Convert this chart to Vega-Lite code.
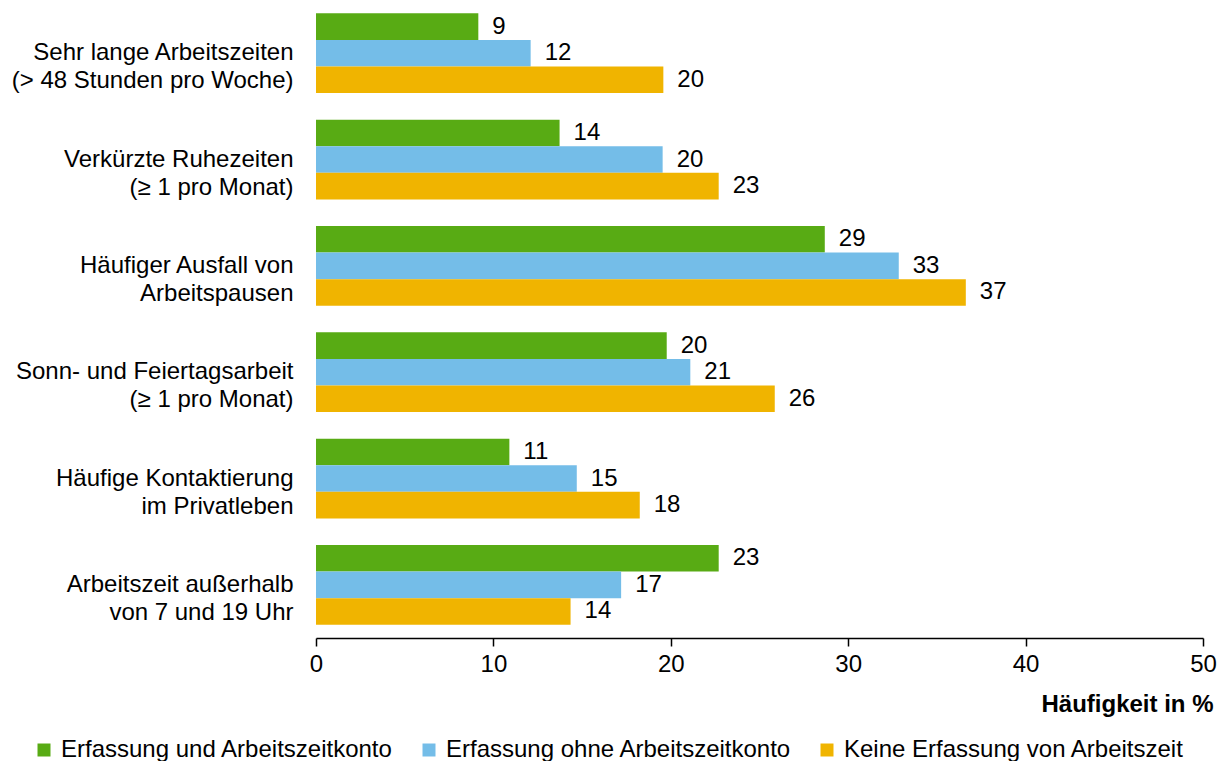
{
  "$schema": "https://vega.github.io/schema/vega-lite/v6.json",
  "width": 887,
  "height": 638,
  "autosize": {"type": "none"},
  "padding": {"left": 316, "top": 0, "right": 22, "bottom": 123},
  "background": "white",
  "config": {
    "font": "Liberation Sans",
    "view": {"stroke": null}
  },
  "data": {
    "values": [
      {"cat": "Sehr lange Arbeitszeiten|(> 48 Stunden pro Woche)", "series": "Erfassung und Arbeitszeitkonto", "value": 9.15},
      {"cat": "Sehr lange Arbeitszeiten|(> 48 Stunden pro Woche)", "series": "Erfassung ohne Arbeitszeitkonto", "value": 12.1},
      {"cat": "Sehr lange Arbeitszeiten|(> 48 Stunden pro Woche)", "series": "Keine Erfassung von Arbeitszeit", "value": 19.58},
      {"cat": "Verkürzte Ruhezeiten|(≥ 1 pro Monat)", "series": "Erfassung und Arbeitszeitkonto", "value": 13.73},
      {"cat": "Verkürzte Ruhezeiten|(≥ 1 pro Monat)", "series": "Erfassung ohne Arbeitszeitkonto", "value": 19.54},
      {"cat": "Verkürzte Ruhezeiten|(≥ 1 pro Monat)", "series": "Keine Erfassung von Arbeitszeit", "value": 22.7},
      {"cat": "Häufiger Ausfall von|Arbeitspausen", "series": "Erfassung und Arbeitszeitkonto", "value": 28.68},
      {"cat": "Häufiger Ausfall von|Arbeitspausen", "series": "Erfassung ohne Arbeitszeitkonto", "value": 32.85},
      {"cat": "Häufiger Ausfall von|Arbeitspausen", "series": "Keine Erfassung von Arbeitszeit", "value": 36.63},
      {"cat": "Sonn- und Feiertagsarbeit|(≥ 1 pro Monat)", "series": "Erfassung und Arbeitszeitkonto", "value": 19.77},
      {"cat": "Sonn- und Feiertagsarbeit|(≥ 1 pro Monat)", "series": "Erfassung ohne Arbeitszeitkonto", "value": 21.1},
      {"cat": "Sonn- und Feiertagsarbeit|(≥ 1 pro Monat)", "series": "Keine Erfassung von Arbeitszeit", "value": 25.86},
      {"cat": "Häufige Kontaktierung|im Privatleben", "series": "Erfassung und Arbeitszeitkonto", "value": 10.9},
      {"cat": "Häufige Kontaktierung|im Privatleben", "series": "Erfassung ohne Arbeitszeitkonto", "value": 14.7},
      {"cat": "Häufige Kontaktierung|im Privatleben", "series": "Keine Erfassung von Arbeitszeit", "value": 18.25},
      {"cat": "Arbeitszeit außerhalb|von 7 und 19 Uhr", "series": "Erfassung und Arbeitszeitkonto", "value": 22.7},
      {"cat": "Arbeitszeit außerhalb|von 7 und 19 Uhr", "series": "Erfassung ohne Arbeitszeitkonto", "value": 17.2},
      {"cat": "Arbeitszeit außerhalb|von 7 und 19 Uhr", "series": "Keine Erfassung von Arbeitszeit", "value": 14.35}
    ]
  },
  "encoding": {
    "y": {
      "field": "cat",
      "type": "nominal",
      "sort": null,
      "scale": {"paddingInner": 0.25, "paddingOuter": 0.125},
      "axis": {
        "title": null,
        "domain": false,
        "ticks": false,
        "labelExpr": "split(datum.value, '|')",
        "labelFontSize": 24,
        "labelColor": "#000000",
        "labelLineHeight": 28,
        "labelPadding": 23,
        "labelAlign": "right",
        "labelLimit": 400
      }
    },
    "yOffset": {
      "field": "series",
      "type": "nominal",
      "sort": ["Erfassung und Arbeitszeitkonto", "Erfassung ohne Arbeitszeitkonto", "Keine Erfassung von Arbeitszeit"],
      "scale": {"paddingInner": 0, "paddingOuter": 0}
    },
    "x": {
      "field": "value",
      "type": "quantitative",
      "scale": {"domain": [0, 50], "nice": false},
      "axis": {
        "title": "Häufigkeit in %",
        "titleFontSize": 24,
        "titleFontWeight": "bold",
        "titleColor": "#000000",
        "titleAnchor": "end",
        "titleAlign": "right",
        "titleBaseline": "alphabetic",
        "titleX": 897,
        "titleY": 73,
        "values": [0, 10, 20, 30, 40, 50],
        "grid": false,
        "domainColor": "#000000",
        "domainWidth": 1.5,
        "tickColor": "#000000",
        "tickWidth": 1.5,
        "tickSize": 8,
        "labelFontSize": 24,
        "labelColor": "#000000",
        "labelPadding": 6,
        "labelFlush": false
      }
    }
  },
  "layer": [
    {
      "mark": {"type": "bar"},
      "encoding": {
        "color": {
          "field": "series",
          "type": "nominal",
          "sort": ["Erfassung und Arbeitszeitkonto", "Erfassung ohne Arbeitszeitkonto", "Keine Erfassung von Arbeitszeit"],
          "scale": {
            "domain": ["Erfassung und Arbeitszeitkonto", "Erfassung ohne Arbeitszeitkonto", "Keine Erfassung von Arbeitszeit"],
            "range": ["#58ab14", "#74bde8", "#f0b400"]
          },
          "legend": {
            "title": null,
            "orient": "none",
            "direction": "horizontal",
            "columns": 3,
            "legendX": -284,
            "legendY": 738,
            "symbolType": "square",
            "symbolSize": 169,
            "symbolStrokeWidth": 0,
            "symbolOpacity": 1,
            "labelFontSize": 24,
            "labelColor": "#000000",
            "labelOffset": 5,
            "columnPadding": 23,
            "labelLimit": 500,
            "padding": 0
          }
        }
      }
    },
    {
      "mark": {"type": "text", "align": "left", "baseline": "middle", "dx": 14, "fontSize": 24, "color": "#000000"},
      "encoding": {
        "text": {"field": "value", "type": "quantitative", "format": ".0f"}
      }
    }
  ]
}
